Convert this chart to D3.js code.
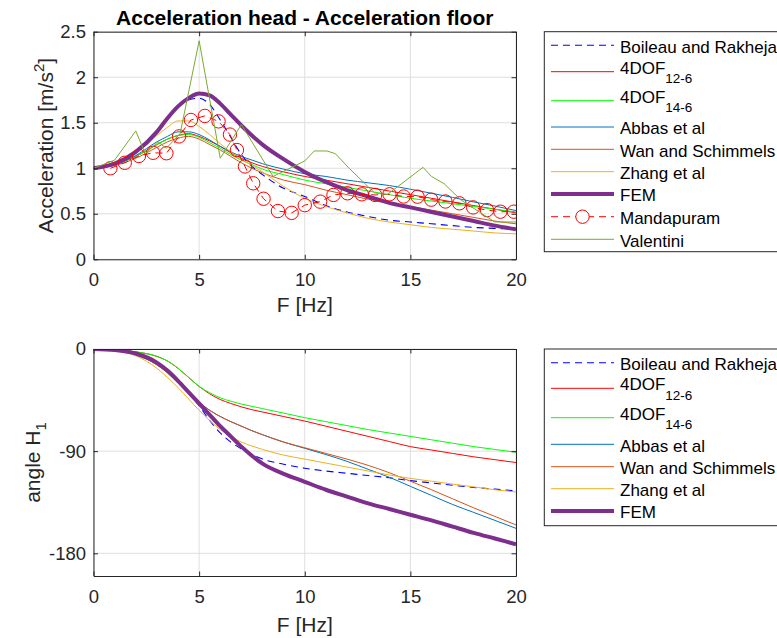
<!DOCTYPE html>
<html><head><meta charset="utf-8">
<script src="https://cdn.jsdelivr.net/npm/d3@7"></script>
<style>body{margin:0;background:#fff}svg{display:block;font-family:"Liberation Sans",Arial,Helvetica,sans-serif}</style>
</head><body><svg id="c" width="777" height="638"></svg>
<script>
// ---------- DATA ----------
const freq = [0,1,2,3,3.5,4,4.5,5,5.5,6,6.5,7,7.5,8,9,10,11,12,13,14,15,16,17,18,19,20];
// acceleration transmissibility (top panel)
const accBoileau = [1.00,1.05,1.18,1.40,1.54,1.67,1.75,1.77,1.70,1.53,1.34,1.15,1.02,0.93,0.78,0.69,0.59,0.52,0.47,0.43,0.41,0.39,0.37,0.35,0.34,0.33];
const acc4dof126 = [1.00,1.04,1.13,1.26,1.32,1.36,1.38,1.35,1.30,1.24,1.17,1.11,1.06,1.02,0.96,0.91,0.87,0.83,0.79,0.75,0.71,0.67,0.63,0.59,0.55,0.51];
const acc4dof146 = [1.00,1.04,1.13,1.26,1.32,1.36,1.37,1.34,1.28,1.22,1.15,1.09,1.04,0.99,0.93,0.87,0.83,0.79,0.75,0.71,0.67,0.64,0.61,0.58,0.55,0.52];
const accAbbas   = [1.00,1.04,1.14,1.29,1.35,1.40,1.40,1.37,1.31,1.24,1.18,1.13,1.09,1.05,0.99,0.94,0.91,0.87,0.84,0.81,0.77,0.725,0.68,0.63,0.585,0.535];
const accWan     = [1.00,1.03,1.11,1.23,1.29,1.33,1.35,1.32,1.26,1.20,1.13,1.06,1.00,0.95,0.87,0.82,0.76,0.71,0.66,0.62,0.58,0.54,0.50,0.46,0.42,0.39];
const accZhang   = [1.00,1.05,1.17,1.36,1.45,1.52,1.52,1.46,1.37,1.27,1.18,1.10,1.03,0.96,0.80,0.67,0.58,0.51,0.45,0.41,0.38,0.35,0.33,0.31,0.29,0.28];
const accFEM     = [1.00,1.05,1.18,1.40,1.55,1.68,1.77,1.82,1.80,1.71,1.59,1.47,1.36,1.26,1.10,0.96,0.85,0.76,0.69,0.62,0.57,0.52,0.47,0.42,0.37,0.33];
const mandFreq = [0.8,1.48,2.15,2.82,3.45,4.05,4.61,5.27,5.92,6.46,6.79,7.17,7.56,8.05,8.73,9.38,10.0,10.73,11.36,12.02,12.7,13.33,14.01,14.68,15.34,15.99,16.66,17.32,17.97,18.63,19.26,19.9];
const mandAcc  = [1.0,1.06,1.135,1.17,1.165,1.35,1.53,1.575,1.515,1.37,1.20,1.02,0.835,0.665,0.53,0.51,0.595,0.633,0.707,0.725,0.714,0.707,0.714,0.69,0.688,0.655,0.635,0.615,0.57,0.54,0.523,0.523];
const valFreq = [0,1.0,2.0,2.45,3.05,3.45,4.1,5.0,6.0,7.0,8.5,10.0,10.45,11.05,11.45,12.1,13.3,13.9,15.6,16.0,16.6,17.4,18.2,19.0,20.0];
const valAcc  = [1.0,1.09,1.41,1.16,1.29,1.22,1.38,2.40,1.11,1.48,0.91,1.08,1.19,1.19,1.16,1.0,0.73,0.71,1.01,0.91,0.83,0.65,0.53,0.41,0.41];
// phase angle (bottom panel), degrees
const angBoileau = [0,-1,-4,-12,-19,-28,-39,-50,-63,-74,-82,-88,-93,-97,-101.5,-105,-107.5,-109.5,-111.5,-113.5,-116,-118,-120,-122,-123.5,-125];
const ang4dof126 = [0,-0.5,-2.5,-6.5,-10.5,-17,-25,-33,-39.5,-44.5,-48,-51,-53.5,-55.5,-59.5,-63.5,-68,-72.5,-77,-81.5,-86,-89,-92,-95,-97.5,-100];
const ang4dof146 = [0,-0.5,-2.5,-6.5,-10.5,-17,-25,-33,-38.5,-43,-46,-48.5,-50.5,-52.5,-56.5,-60.5,-64,-67.5,-71,-74,-77,-80,-83,-86,-88.5,-91];
const angAbbas   = [0,-1,-5,-14,-21,-30,-39,-47,-54,-59.5,-64,-68,-72,-75.5,-82,-87.5,-93,-99,-106,-113,-121,-129,-137,-144,-151,-158];
const angWan     = [0,-1,-5,-14,-21,-30,-39,-47,-54,-59.5,-64,-68,-72,-75.5,-82,-87,-92,-97,-102.5,-109,-116.5,-124,-132,-140,-147.5,-155];
const angZhang   = [0,-1.5,-6,-17,-25,-34,-44,-54,-63,-71,-77,-82,-85.5,-88.5,-93.5,-97,-100.5,-104,-107.5,-111,-114,-116.5,-119,-121.5,-124,-126];
const angFEM     = [0,-1,-4,-12,-19,-28,-38,-48,-58,-68,-77,-86,-94,-101,-110,-117,-124,-130,-136,-141,-146,-151,-156.5,-162,-167,-172];

const legendNames = ["Boileau and Rakheja","4DOF","4DOF","Abbas et al","Wan and Schimmels","Zhang et al","FEM","Mandapuram","Valentini"];
const legendSubs  = ["","12-6","14-6","","","","","",""];
const xTicks = [0,5,10,15,20];
const accTicks = [0,0.5,1,1.5,2,2.5];
const angTicks = [0,-90,-180];
const titleText = "Acceleration head - Acceleration floor";

// ---------- STYLE ----------
const styles = [
  {c:"#0000FF", w:1.1, dash:"7,5"},
  {c:"#FF0000", w:1},
  {c:"#00FF00", w:1},
  {c:"#0072BD", w:1},
  {c:"#D95319", w:1},
  {c:"#EDB120", w:1},
  {c:"#7E2F8E", w:4},
  {c:"#FF0000", w:1, dash:"7,5", marker:true},
  {c:"#77AC30", w:1}
];
const FS = 18.5, FL = 17, FT = 21, AX = "#262626", GRID = "#dfdfdf";

const svg = d3.select("#c");
const L = 93.5, R = 516;
const x = d3.scaleLinear().domain([0,20]).range([L,R]);
const P1 = {top:31.7, bot:259.3}, P2 = {top:349, bot:576};
const yA = d3.scaleLinear().domain([0,2.5]).range([P1.bot,P1.top]);
const yB = d3.scaleLinear().domain([-200,0]).range([P2.bot,P2.top]);

function clip(id,P){
  svg.append("clipPath").attr("id",id).append("rect")
    .attr("x",L).attr("y",P.top).attr("width",R-L).attr("height",P.bot-P.top);
}
clip("c1",P1); clip("c2",P2);

function grid(P,y,yt){
  const g = svg.append("g");
  g.selectAll(".gx").data(xTicks).join("line")
    .attr("x1",d=>x(d)).attr("x2",d=>x(d)).attr("y1",P.top).attr("y2",P.bot)
    .attr("stroke",GRID).attr("stroke-width",1);
  g.selectAll(".gy").data(yt).join("line")
    .attr("x1",L).attr("x2",R).attr("y1",d=>y(d)).attr("y2",d=>y(d))
    .attr("stroke",GRID).attr("stroke-width",1);
}
function axes(P,y,yt,fmt){
  const tk = 4.5;
  const style = g=>{
    g.selectAll("path.domain").attr("stroke",AX).attr("stroke-width",1);
    g.selectAll(".tick line").attr("stroke",AX);
    g.selectAll("text").attr("fill",AX).attr("font-size",FS).attr("font-family","inherit");
  };
  svg.append("g").attr("transform",`translate(0,${P.bot})`)
    .call(d3.axisBottom(x).tickValues(xTicks).tickSizeInner(-tk).tickSizeOuter(0).tickPadding(14)).call(style);
  svg.append("g").attr("transform",`translate(0,${P.top})`)
    .call(d3.axisTop(x).tickValues(xTicks).tickSizeInner(-tk).tickSizeOuter(0).tickFormat("")).call(style);
  svg.append("g").attr("transform",`translate(${L},0)`)
    .call(d3.axisLeft(y).tickValues(yt).tickSizeInner(-tk).tickSizeOuter(0).tickPadding(7.5).tickFormat(fmt)).call(style);
  svg.append("g").attr("transform",`translate(${R},0)`)
    .call(d3.axisRight(y).tickValues(yt).tickSizeInner(-tk).tickSizeOuter(0).tickFormat("")).call(style);
}

function drawSeries(clipId,y,xs,ys,st,curve){
  const data = xs.map((f,i)=>[f,ys[i]]);
  const g = svg.append("g").attr("clip-path",`url(#${clipId})`);
  g.append("path").datum(data)
    .attr("d",d3.line().x(d=>x(d[0])).y(d=>y(d[1])).curve(curve))
    .attr("fill","none").attr("stroke",st.c).attr("stroke-width",st.w)
    .attr("stroke-dasharray",st.dash||null).attr("stroke-linejoin","round");
  if(st.marker){
    g.selectAll("circle").data(data).join("circle")
      .attr("cx",d=>x(d[0])).attr("cy",d=>y(d[1])).attr("r",6.7)
      .attr("fill","none").attr("stroke",st.c).attr("stroke-width",1);
  }
}

// ---------- TOP PANEL ----------
grid(P1,yA,accTicks);
const smooth = d3.curveMonotoneX, lin = d3.curveLinear;
const accModels = [accBoileau,acc4dof126,acc4dof146,accAbbas,accWan,accZhang,accFEM];
accModels.forEach((a,i)=>drawSeries("c1",yA,freq,a,styles[i],smooth));
drawSeries("c1",yA,mandFreq,mandAcc,styles[7],lin);
drawSeries("c1",yA,valFreq,valAcc,styles[8],lin);
axes(P1,yA,accTicks,d=>String(d));

// ---------- BOTTOM PANEL ----------
grid(P2,yB,angTicks);
const angModels = [angBoileau,ang4dof126,ang4dof146,angAbbas,angWan,angZhang,angFEM];
angModels.forEach((a,i)=>drawSeries("c2",yB,freq,a,styles[i],smooth));
axes(P2,yB,angTicks,d=>String(d));

// ---------- TEXTS ----------
svg.append("text").attr("x",(L+R)/2).attr("y",24.5).attr("text-anchor","middle")
  .attr("font-size",FT).attr("font-weight","bold").attr("fill","#000").text(titleText);
svg.append("text").attr("x",(L+R)/2).attr("y",312).attr("text-anchor","middle")
  .attr("font-size",FT).attr("fill",AX).text("F [Hz]");
svg.append("text").attr("x",(L+R)/2).attr("y",632).attr("text-anchor","middle")
  .attr("font-size",FT).attr("fill",AX).text("F [Hz]");
const yl1 = svg.append("text").attr("transform",`translate(52.5,${(P1.top+P1.bot)/2}) rotate(-90)`)
  .attr("text-anchor","middle").attr("font-size",FT).attr("fill",AX);
yl1.append("tspan").text("Acceleration [m/s");
yl1.append("tspan").attr("font-size",15).attr("dy",-9).text("2");
yl1.append("tspan").attr("dy",9).text("]");
const yl2 = svg.append("text").attr("transform",`translate(40,${(P2.top+P2.bot)/2}) rotate(-90)`)
  .attr("text-anchor","middle").attr("font-size",FT).attr("fill",AX);
yl2.append("tspan").text("angle H");
yl2.append("tspan").attr("font-size",15).attr("dy",6).text("1");

// ---------- LEGENDS ----------
function legend(box,rows,idx){
  const g = svg.append("g");
  g.append("rect").attr("x",box.x).attr("y",box.y).attr("width",box.w).attr("height",box.h)
    .attr("fill","#fff").attr("stroke",AX).attr("stroke-width",1);
  idx.forEach((si,k)=>{
    const ly = rows[k], st = styles[si];
    g.append("line").attr("x1",551).attr("x2",614).attr("y1",ly).attr("y2",ly)
      .attr("stroke",st.c).attr("stroke-width",st.w).attr("stroke-dasharray",st.dash||null);
    if(st.marker){
      g.append("circle").attr("cx",582.5).attr("cy",ly).attr("r",6.7)
        .attr("fill","#fff").attr("stroke",st.c).attr("stroke-width",1);
    }
    const sub = legendSubs[si];
    const t = g.append("text").attr("x",620).attr("y",sub? ly+1.8 : ly+7.4)
      .attr("font-size",FL).attr("fill","#000");
    t.append("tspan").text(legendNames[si]);
    if(sub) t.append("tspan").attr("font-size",13.5).attr("dy",9.8).text(sub);
  });
}
legend({x:544.3,y:31.7,w:260,h:220},[45.3,71.7,100.7,127,149.3,171.7,194,216.7,239.3],[0,1,2,3,4,5,6,7,8]);
legend({x:544.3,y:349,w:260,h:176.7},[362.7,388.3,417.7,444.3,466.7,488.7,511],[0,1,2,3,4,5,6]);
</script></body></html>
